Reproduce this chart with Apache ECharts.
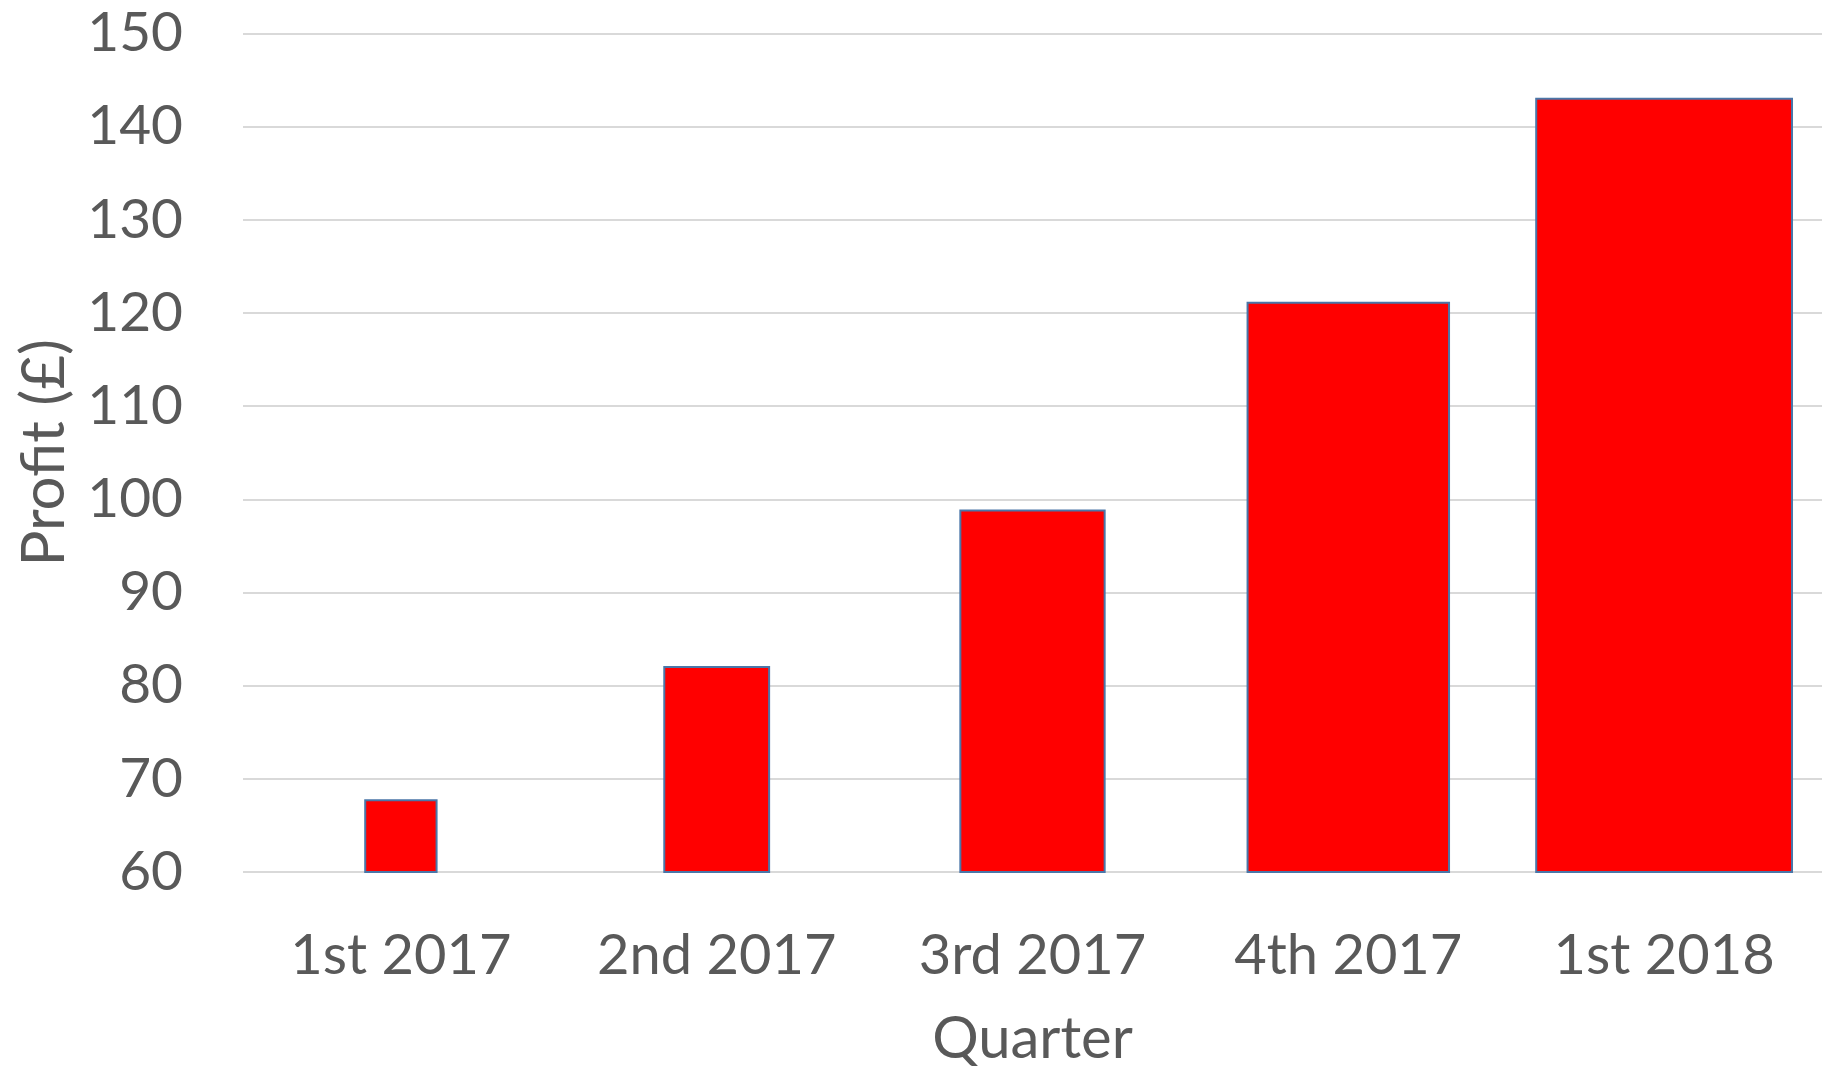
<!DOCTYPE html>
<html>
<head>
<meta charset="utf-8">
<script src="https://cdn.jsdelivr.net/npm/echarts@6/dist/echarts.min.js"></script>
<style>
html,body{margin:0;padding:0;background:#fff;}
#chart{width:1822px;height:1069px;}
</style>
</head>
<body>
<div id="chart"></div>
<script>
// Data
const quarters = ['1st 2017', '2nd 2017', '3rd 2017', '4th 2017', '1st 2018'];
const profit = [67.7, 82.0, 98.8, 121.1, 143.0];
const yTicks = { min: 60, max: 150, interval: 10 };
// Bar width as share of each category band (the chart uses widening bars)
const barWidthShare = [0.226, 0.332, 0.457, 0.638, 0.81];

const textColor = '#595959';
const font = 'Lato, "Open Sans", sans-serif';

const chart = echarts.init(document.getElementById('chart'));
chart.setOption({
  animation: false,
  grid: { left: 243, right: 0, top: 33.5, bottom: 197, containLabel: false, outerBoundsMode: 'none' },
  xAxis: {
    type: 'category',
    data: quarters,
    name: 'Quarter',
    nameLocation: 'middle',
    nameGap: 138,
    nameTextStyle: { color: textColor, fontSize: 58, fontFamily: font },
    axisLine: { show: false },
    axisTick: { show: false },
    axisLabel: { color: textColor, fontSize: 56, fontFamily: font, margin: 56 },
    splitLine: { show: false }
  },
  yAxis: {
    type: 'value',
    min: yTicks.min,
    max: yTicks.max,
    interval: yTicks.interval,
    name: 'Profit (£)',
    nameLocation: 'middle',
    nameGap: 168,
    nameRotate: 90,
    nameTextStyle: { color: textColor, fontSize: 60, fontFamily: font },
    axisLine: { show: false },
    axisTick: { show: false },
    axisLabel: { color: textColor, fontSize: 55, fontFamily: font, margin: 60 },
    splitLine: { show: true, lineStyle: { color: '#d9d9d9', width: 2 } }
  },
  series: [{
    type: 'custom',
    data: profit.map((v, i) => [i, v]),
    encode: { x: 0, y: 1 },
    renderItem: function (params, api) {
      const idx = api.value(0);
      const val = api.value(1);
      const top = api.coord([idx, val]);
      const base = api.coord([idx, yTicks.min]);
      const band = api.size([1, 0])[0];
      const w = band * barWidthShare[params.dataIndex];
      return {
        type: 'rect',
        shape: { x: top[0] - w / 2, y: top[1], width: w, height: base[1] - top[1] },
        style: { fill: '#ff0000', stroke: '#4a76a8', lineWidth: 2 }
      };
    }
  }]
});
</script>
</body>
</html>
